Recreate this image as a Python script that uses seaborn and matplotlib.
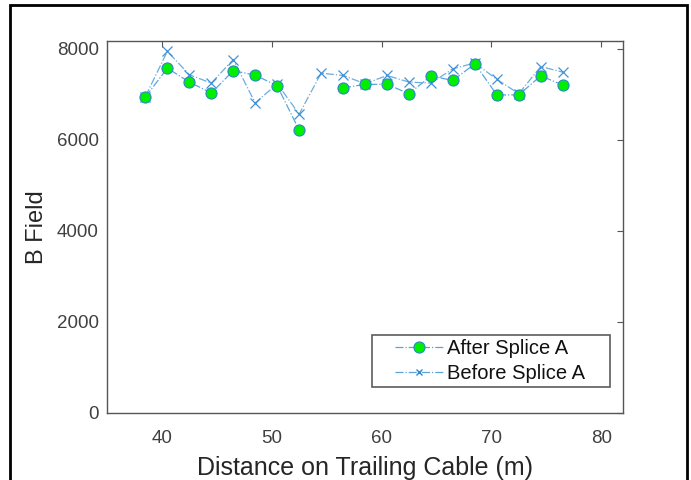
import numpy as np
import pandas as pd
import matplotlib
matplotlib.use('Agg')
import matplotlib.pyplot as plt
from matplotlib.lines import Line2D
from matplotlib.legend_handler import HandlerLine2D
from matplotlib.patches import Rectangle
import seaborn as sns

# distances along the cable (m)
distance = [38.5, 40.5, 42.5, 44.5, 46.5, 48.5, 50.5, 52.5, 54.5, 56.5,
            58.5, 60.5, 62.5, 64.5, 66.5, 68.5, 70.5, 72.5, 74.5, 76.5]
# B field after splice (no reading at 54.5 m)
after_splice = [6945, 7578, 7272, 7032, 7522, 7425, 7190, 6218, np.nan, 7145,
                7222, 7222, 7018, 7405, 7308, 7675, 6990, 6990, 7410, 7206]
# B field before splice
before_splice = [6955, 7948, 7433, 7250, 7767, 6813, 7236, 6567, 7468, 7417,
                 7236, 7417, 7271, 7250, 7563, 7694, 7330, 7018, 7614, 7490]

line_col = '#5aa5dc'
edge_col = '#2f86cf'
text_col = '#404040'

sns.set_style('white')
plt.rcParams['font.family'] = ['Liberation Sans', 'DejaVu Sans']

df = pd.DataFrame({'dist': distance, 'after': after_splice, 'before': before_splice})
df['seg'] = df['after'].isna().cumsum()

fig = plt.figure(figsize=(6.91, 4.8), dpi=100)
ax = fig.add_axes([0.1548, 0.1396, 0.747, 0.775])

sns.lineplot(data=df, x='dist', y='before', ax=ax, color=line_col, linestyle='-.',
             linewidth=0.9, marker='x', markersize=6.5, markeredgecolor=edge_col,
             markeredgewidth=0.9, alpha=0.9)
sns.lineplot(data=df.dropna(), x='dist', y='after', units='seg', estimator=None, ax=ax,
             color=line_col, linestyle='-.', linewidth=0.9, marker='o', markersize=8,
             markerfacecolor='#00ee00', markeredgecolor=edge_col, markeredgewidth=0.8)

ax.set_xlim(35, 82)
ax.set_ylim(0, 8175)
ax.set_xticks([40, 50, 60, 70, 80])
ax.set_yticks([0, 2000, 4000, 6000, 8000])
ax.tick_params(direction='in', length=4, width=0.8, color='#555555', labelsize=13.5,
               labelcolor=text_col, top=True, right=True, pad=6)
ax.tick_params(axis='x', pad=12)
for s in ax.spines.values():
    s.set_color('#555555')
    s.set_linewidth(1.0)
ax.set_xlabel('Distance on Trailing Cable (m)', fontsize=18, color='#262626', labelpad=7)
ax.set_ylabel('B Field', fontsize=17, color='#262626', labelpad=6)

handles = [
    Line2D([], [], color=line_col, linestyle='-.', linewidth=0.9, marker='o', markersize=8,
           markerfacecolor='#00ee00', markeredgecolor=edge_col, markeredgewidth=0.8),
    Line2D([], [], color=line_col, linestyle='-.', linewidth=0.9, marker='x', markersize=5,
           markeredgecolor=edge_col),
]
leg = ax.legend(handles, ['After Splice A', 'Before Splice A'], loc='lower left',
                mode='expand', bbox_to_anchor=(0.5136, 0.07, 0.4612, 0.2),
                fontsize=14.5, frameon=True, fancybox=False, borderpad=0.2,
                handlelength=3.3, handletextpad=0.2, labelspacing=0.3, borderaxespad=0,
                handler_map={Line2D: HandlerLine2D(xpad=0.95)})
leg.get_frame().set_edgecolor('#333333')
leg.get_frame().set_linewidth(1.2)
for t in leg.get_texts():
    t.set_color('#111111')

# outer border of the figure
fig.patches.append(Rectangle((10 / 691, -0.05), 677 / 691, 1.04, transform=fig.transFigure,
                             fill=False, edgecolor='black', linewidth=2, figure=fig))

fig.savefig('out.png', dpi=100)
